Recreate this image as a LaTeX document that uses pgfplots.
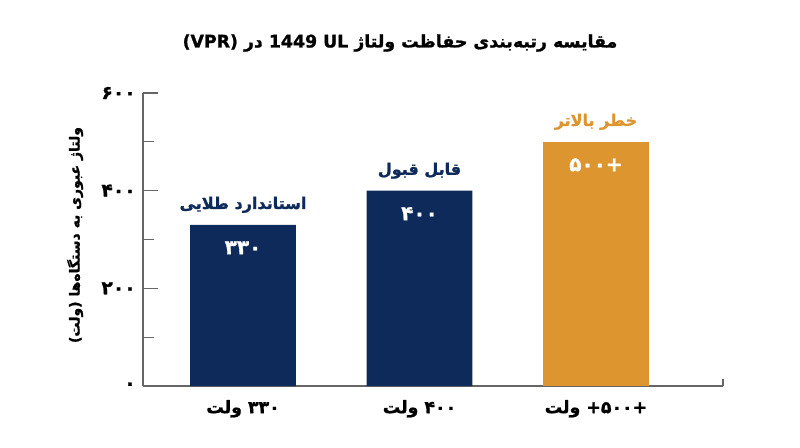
\documentclass[border=0pt]{standalone}
\usepackage{fontspec}
\usepackage{pgfplots}
\pgfplotsset{compat=1.18}
\setmainfont{DejaVu Sans}
\newfontfamily\af[Script=Arabic, BoldFeatures={FakeBold=1.2}]{DejaVu Sans}
\TeXXeTstate=1
\definecolor{navy}{HTML}{0D2A5A}
\definecolor{gold}{HTML}{DD9530}
\definecolor{axgray}{HTML}{666666}
\begin{document}
\begin{tikzpicture}
\useasboundingbox (0,0) rectangle (600pt,335.25pt);
\begin{axis}[
  at={(107.25pt,45.75pt)}, anchor=south west,
  scale only axis, width=435pt, height=219.75pt,
  xmin=-0.567, xmax=2.72, ymin=0, ymax=600,
  clip=false,
  axis x line*=bottom, axis y line*=left,
  axis line style={axgray, line width=0.9pt},
  xtick={0,1,2},
  xticklabels={\beginR ۳۳۰ ولت\endR, \beginR ۴۰۰ ولت\endR, \beginR +\kern0pt۵۰۰\kern0pt+ ولت\endR},
  x tick style={draw=none},
  ytick={0,200,400,600},
  yticklabels={۰,۲۰۰,۴۰۰,۶۰۰},
  minor ytick={100,300,500},
  tick align=inside,
  major tick length=11.25pt, minor tick length=8.25pt,
  y tick style={axgray, line width=0.9pt},
  yticklabel style={font=\af\bfseries\fontsize{14}{16}\selectfont, xshift=-2pt},
  xticklabel style={font=\af\bfseries\fontsize{13}{15}\selectfont, yshift=-7pt},
]
\addplot[ybar, bar width=0.6, bar shift=0pt, fill=navy, draw=none]
  coordinates {(0,330) (1,400)};
\addplot[ybar, bar width=0.6, bar shift=0pt, fill=gold, draw=none]
  coordinates {(2,500)};
% names above the bars
\addplot[draw=none, mark=none, nodes near coords, point meta=explicit symbolic,
  every node near coord/.append style={anchor=center, yshift=15pt, text=navy,
    font=\af\bfseries\fontsize{12}{14}\selectfont}]
  coordinates {(0,330) [\beginR استاندارد طلایی\endR] (1,400) [\beginR قابل قبول\endR]};
\addplot[draw=none, mark=none, nodes near coords, point meta=explicit symbolic,
  every node near coord/.append style={anchor=center, yshift=15pt, text=gold,
    font=\af\bfseries\fontsize{12}{14}\selectfont}]
  coordinates {(2,500) [\beginR خطر بالاتر\endR]};
% values inside the bars
\addplot[draw=none, mark=none, nodes near coords, point meta=explicit symbolic,
  every node near coord/.append style={anchor=center, yshift=-17.25pt, text=white,
    font=\af\bfseries\fontsize{15}{17}\selectfont}]
  coordinates {(0,330) [۳۳۰] (1,400) [۴۰۰] (2,500) [۵۰۰\kern0pt+]};
\draw[axgray, line width=0.9pt] (axis cs:2.72,0) -- (axis cs:2.72,14);
\end{axis}
\node[font=\af\bfseries\fontsize{13}{16}\selectfont] at (300pt,303pt)
  {\beginR مقایسه رتبه^^^^200cبندی حفاظت ولتاژ UL 1449 در (VPR)\endR};
\node[rotate=90, font=\af\bfseries\fontsize{10.5}{13}\selectfont] at (56.25pt,159pt)
  {\beginR ولتاژ عبوری به دستگاه^^^^200cها (ولت)\endR};
\end{tikzpicture}
\end{document}
